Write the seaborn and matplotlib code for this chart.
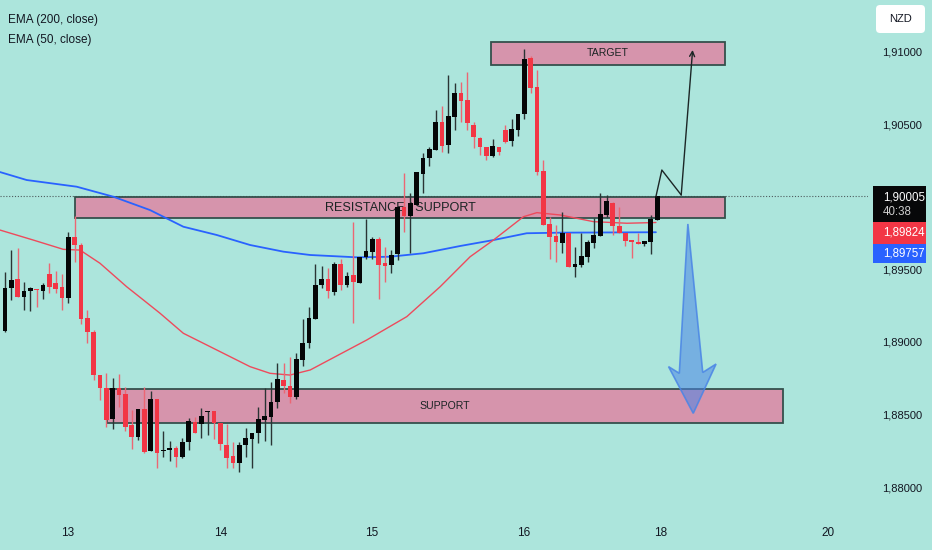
import matplotlib
matplotlib.use("Agg")
import matplotlib.pyplot as plt
import seaborn as sns
import pandas as pd
from matplotlib.patches import Rectangle, Polygon, FancyBboxPatch
from matplotlib.transforms import IdentityTransform
from matplotlib import font_manager

# ---------------- data (hourly candles) ----------------
opens = [1.89076, 1.89370, 1.89432, 1.89312, 1.89352, 1.89368, 1.89352, 1.89469, 1.89405, 1.89377,
         1.89306, 1.89722, 1.89669, 1.89163, 1.89071, 1.88772, 1.88685, 1.88467, 1.88685, 1.88641,
         1.88428, 1.88343, 1.88536, 1.88250, 1.88605, 1.88250, 1.88255, 1.88271, 1.88209, 1.88308,
         1.88446, 1.88434, 1.88515, 1.88526, 1.88443, 1.88290, 1.88214, 1.88163, 1.88290, 1.88331,
         1.88370, 1.88462, 1.88481, 1.88584, 1.88738, 1.88697, 1.88619, 1.88876, 1.88991, 1.89159,
         1.89393, 1.89432, 1.89347, 1.89538, 1.89393, 1.89462, 1.89405, 1.89588, 1.89619, 1.89710,
         1.89543, 1.89531, 1.89607, 1.89933, 1.89871, 1.89945, 1.90159, 1.90267, 1.90324, 1.90519,
         1.90359, 1.90554, 1.90719, 1.90669, 1.90497, 1.90405, 1.90343, 1.90285, 1.90347, 1.90462,
         1.90388, 1.90462, 1.90572, 1.90957, 1.90757, 1.90179, 1.89814, 1.89731, 1.89685, 1.89750,
         1.89515, 1.89531, 1.89588, 1.89685, 1.89733, 1.89876, 1.89961, 1.89800, 1.89754, 1.89703,
         1.89692, 1.89674, 1.89688, 1.89841]
highs = [1.89483, 1.89634, 1.89646, 1.89416, 1.89379, 1.89368, 1.89409, 1.89543, 1.89492, 1.89469,
         1.89757, 1.89869, 1.89681, 1.89221, 1.89083, 1.88772, 1.88788, 1.88750, 1.88777, 1.88688,
         1.88531, 1.88536, 1.88688, 1.88664, 1.88605, 1.88386, 1.88319, 1.88283, 1.88340, 1.88474,
         1.88485, 1.88543, 1.88526, 1.88526, 1.88443, 1.88434, 1.88308, 1.88312, 1.88405, 1.88370,
         1.88550, 1.88685, 1.88726, 1.88853, 1.88853, 1.88894, 1.88922, 1.89157, 1.89243, 1.89538,
         1.89526, 1.89508, 1.89554, 1.89570, 1.89485, 1.89830, 1.89588, 1.89846, 1.89726, 1.89722,
         1.89653, 1.89634, 1.89933, 1.90163, 1.90030, 1.90170, 1.90301, 1.90343, 1.90600, 1.90628,
         1.90841, 1.90788, 1.90795, 1.90864, 1.90519, 1.90416, 1.90343, 1.90398, 1.90347, 1.90497,
         1.90536, 1.90572, 1.91019, 1.90972, 1.90876, 1.90255, 1.89864, 1.89807, 1.89899, 1.89754,
         1.89653, 1.89750, 1.89703, 1.89853, 1.90030, 1.90014, 1.89968, 1.89933, 1.89754, 1.89703,
         1.89754, 1.89697, 1.89876, 1.90005]
lows = [1.89070, 1.89290, 1.89310, 1.89221, 1.89216, 1.89243, 1.89294, 1.89336, 1.89336, 1.89221,
        1.89271, 1.89554, 1.89124, 1.88991, 1.88738, 1.88600, 1.88416, 1.88398, 1.88554, 1.88388,
        1.88260, 1.88324, 1.88232, 1.88250, 1.88129, 1.88209, 1.88181, 1.88140, 1.88198, 1.88255,
        1.88370, 1.88336, 1.88359, 1.88331, 1.88255, 1.88133, 1.88133, 1.88106, 1.88205, 1.88133,
        1.88306, 1.88319, 1.88290, 1.88543, 1.88646, 1.88577, 1.88607, 1.88837, 1.88957, 1.89159,
        1.89370, 1.89301, 1.89324, 1.89359, 1.89381, 1.89129, 1.89405, 1.89572, 1.89572, 1.89294,
        1.89412, 1.89474, 1.89566, 1.89757, 1.89612, 1.89945, 1.90030, 1.90214, 1.90324, 1.90312,
        1.90301, 1.90462, 1.90519, 1.90462, 1.90336, 1.90290, 1.90255, 1.90278, 1.90290, 1.90370,
        1.90352, 1.90421, 1.90536, 1.90715, 1.90152, 1.89807, 1.89570, 1.89554, 1.89612, 1.89515,
        1.89446, 1.89519, 1.89554, 1.89646, 1.89733, 1.89864, 1.89738, 1.89754, 1.89664, 1.89577,
        1.89676, 1.89664, 1.89605, 1.89841]
closes = [1.89374, 1.89428, 1.89312, 1.89352, 1.89370, 1.89357, 1.89393, 1.89381, 1.89363, 1.89306,
          1.89726, 1.89667, 1.89157, 1.89069, 1.88772, 1.88681, 1.88462, 1.88685, 1.88634, 1.88416,
          1.88343, 1.88536, 1.88243, 1.88605, 1.88232, 1.88255, 1.88267, 1.88209, 1.88308, 1.88455,
          1.88370, 1.88490, 1.88526, 1.88443, 1.88295, 1.88198, 1.88163, 1.88290, 1.88336, 1.88370,
          1.88469, 1.88490, 1.88584, 1.88745, 1.88699, 1.88619, 1.88883, 1.88995, 1.89163, 1.89393,
          1.89432, 1.89352, 1.89538, 1.89393, 1.89455, 1.89416, 1.89588, 1.89628, 1.89710, 1.89531,
          1.89526, 1.89600, 1.89933, 1.89871, 1.89957, 1.90170, 1.90267, 1.90331, 1.90515, 1.90352,
          1.90559, 1.90719, 1.90662, 1.90510, 1.90412, 1.90343, 1.90285, 1.90352, 1.90312, 1.90377,
          1.90467, 1.90572, 1.90950, 1.90754, 1.90174, 1.89807, 1.89726, 1.89692, 1.89750, 1.89515,
          1.89536, 1.89595, 1.89688, 1.89738, 1.89883, 1.89974, 1.89800, 1.89754, 1.89699, 1.89688,
          1.89676, 1.89697, 1.89846, 1.90005]

day_labels = ["13", "14", "15", "16", "18", "20"]
day_positions = [10.95, 35.0, 58.97, 82.99, 104.6, 131.0]

ema200_x = [0.21, 4.43, 12.32, 18.11, 23.9, 29.17, 34.44, 39.7, 44.97, 49.2, 56.56, 61.8,
            67.08, 72.88, 78.14, 83.4, 88.7, 103.8]
ema200_y = [1.90172, 1.90117, 1.90071, 1.90002, 1.89910, 1.89795, 1.89738, 1.89669, 1.89623,
            1.89600, 1.89584, 1.89588, 1.89612, 1.89662, 1.89703, 1.89750, 1.89754, 1.89757]
ema50_x = [0.21, 5.47, 10.21, 12.85, 16.0, 20.22, 22.85, 25.49, 29.17, 34.44, 39.7, 42.86, 46.0,
           49.2, 58.14, 64.46, 69.72, 74.46, 78.14, 82.88, 85.0, 88.68, 93.94, 99.22, 103.8]
ema50_y = [1.89772, 1.89703, 1.89639, 1.89634, 1.89543, 1.89381, 1.89290, 1.89198, 1.89060,
           1.88945, 1.88830, 1.88784, 1.88772, 1.88807, 1.89014, 1.89175, 1.89381, 1.89588,
           1.89703, 1.89864, 1.89892, 1.89876, 1.89830, 1.89819, 1.89824]

price_ticks = [1.880, 1.885, 1.890, 1.895, 1.905, 1.910]
last_price = 1.90005
ema50_last = 1.89824
ema200_last = 1.89757
countdown = "40:38"
currency = "NZD"
legend_lines = ["EMA (200, close)", "EMA (50, close)"]

zone_labels = ["RESISTANCE / SUPPORT", "TARGET", "SUPPORT"]
zone_x0 = [12.06, 77.77, 17.1]
zone_x1 = [114.7, 114.7, 123.9]
zone_lo = [1.89855, 1.90910, 1.88443]
zone_hi = [1.90000, 1.91071, 1.88676]

path_x = [103.8, 104.74, 107.8, 109.6]
path_y = [1.90002, 1.90186, 1.90014, 1.91014]
down_x = [108.85, 111.2, 113.3, 109.7, 105.8, 107.5]
down_y = [1.89814, 1.88790, 1.88848, 1.88508, 1.88830, 1.88784]

# ---------------- style ----------------
sns.set_theme(style="white")
names = {f.name for f in font_manager.fontManager.ttflist}
narrow = "Liberation Sans Narrow" if "Liberation Sans Narrow" in names else "Liberation Sans"
narrow_scale = 1.0 if narrow == "Liberation Sans Narrow" else 0.95
plt.rcParams["font.family"] = ["Liberation Sans", "DejaVu Sans"]

BG = "#ace5dc"
TXT = "#131722"
RED = "#f23645"
BLUE = "#2962ff"
PINK = "#d694ac"
EDGE = "#35504c"

W, H = 932, 550
fig = plt.figure(figsize=(W / 100, H / 100), dpi=100, facecolor=BG)
ax = fig.add_axes([0, 35 / H, 868 / W, 515 / H])
ax.set_facecolor(BG)
ax.set_xlim(0.21, 137.3)
ax.set_ylim(1.878069, 1.913586)
for s in ax.spines.values():
    s.set_visible(False)
ax.grid(False)

# zones
for lab, x0, x1, lo, hi in zip(zone_labels, zone_x0, zone_x1, zone_lo, zone_hi):
    ax.add_patch(Rectangle((x0, lo), x1 - x0, hi - lo, facecolor=PINK, edgecolor=EDGE,
                           lw=1.3, zorder=1.5))
    fs = 9.6 if lab.startswith("RES") else 8.0
    ax.text((x0 + x1) / 2, (lo + hi) / 2, lab, ha="center", va="center", color="#1b2424",
            fontsize=fs * narrow_scale, family=[narrow, "DejaVu Sans"], zorder=1.6)

# current price dotted line
ax.axhline(last_price, color="#4e5c5e", lw=0.8, ls=(0, (1, 1.6)), zorder=1.2)

# EMA lines
df200 = pd.DataFrame({"x": ema200_x, "y": ema200_y})
df50 = pd.DataFrame({"x": ema50_x, "y": ema50_y})
sns.lineplot(data=df200, x="x", y="y", ax=ax, color=BLUE, lw=1.3, sort=False,
             estimator=None, legend=False, zorder=2)
sns.lineplot(data=df50, x="x", y="y", ax=ax, color="#ee4a5c", lw=1.0, sort=False,
             estimator=None, legend=False, zorder=2)

# candles
xs = list(range(1, len(opens) + 1))
for x, o, h, l, c in zip(xs, opens, highs, lows, closes):
    up = c >= o
    col = "#050607" if up else RED
    wcol = "#2a3434" if up else "#ec6673"
    ax.vlines(x, l, h, color=wcol, lw=1.0, zorder=3)
    ax.bar(x, max(abs(c - o), 0.00008), bottom=min(o, c), width=0.74, color=col,
           edgecolor="none", zorder=4)

# scenario path up to target
ax.plot(path_x[:3], path_y[:3], color="#1c2626", lw=1.0, zorder=5)
ax.annotate("", xy=(path_x[3], path_y[3]), xytext=(path_x[2], path_y[2]),
            arrowprops=dict(arrowstyle="->", color="#1c2626", lw=1.0, shrinkA=0, shrinkB=0,
                            mutation_scale=9), zorder=5)

# big blue down arrow
ax.add_patch(Polygon(list(zip(down_x, down_y)), closed=True,
                     facecolor=(0.29, 0.52, 0.90, 0.55), edgecolor=(0.29, 0.52, 0.90, 0.85),
                     lw=1.2, zorder=6))

# axes ticks
ax.yaxis.tick_right()
ax.set_yticks(price_ticks)
ax.set_yticklabels([f"{v:.5f}".replace(".", ",") for v in price_ticks])
ax.tick_params(axis="y", length=0, pad=10.5, labelsize=8, labelcolor=TXT)
ax.set_xticks(day_positions)
ax.set_xticklabels(day_labels)
ax.tick_params(axis="x", length=0, pad=9, labelsize=8.5, labelcolor=TXT)
ax.set_xlabel("")
ax.set_ylabel("")

# legend text
fig.text(8 / W, 1 - 20 / H, legend_lines[0], fontsize=8.5, va="center", color=TXT)
fig.text(8 / W, 1 - 40 / H, legend_lines[1], fontsize=8.5, va="center", color=TXT)

# currency box
fig.add_artist(FancyBboxPatch((876, H - 33), 49, 28, boxstyle="round,pad=0,rounding_size=4",
                              transform=IdentityTransform(), fc="white", ec="none"))
fig.text(900.5 / W, 1 - 19 / H, currency, fontsize=8, ha="center", va="center", color=TXT)

# price label boxes on the scale
fig.canvas.draw()
ytop = H - ax.transData.transform((0, last_price))[1]
bx0, bw = 873, 53
b_top = ytop - 10.5
boxes = [(b_top, 36.5, "#070809"), (b_top + 36.5, 21.5, RED), (b_top + 58, 19.5, BLUE)]
for top, hgt, colr in boxes:
    fig.add_artist(Rectangle((bx0, H - top - hgt), bw, hgt, transform=IdentityTransform(),
                             fc=colr, ec="none"))
fig.text(883 / W, 1 - (b_top + 11.5) / H, f"{last_price:.5f}".replace(".", ","),
         fontsize=8.3, color="white", va="center", ha="left")
fig.text(883 / W, 1 - (b_top + 26.5) / H, countdown, fontsize=8.3, color="#cfcfcf",
         va="center", ha="left")
fig.text(883 / W, 1 - (b_top + 47) / H, f"{ema50_last:.5f}".replace(".", ","),
         fontsize=8.3, color="white", va="center", ha="left")
fig.text(883 / W, 1 - (b_top + 67.5) / H, f"{ema200_last:.5f}".replace(".", ","),
         fontsize=8.3, color="white", va="center", ha="left")

fig.savefig("out.png", dpi=100, facecolor=BG)
